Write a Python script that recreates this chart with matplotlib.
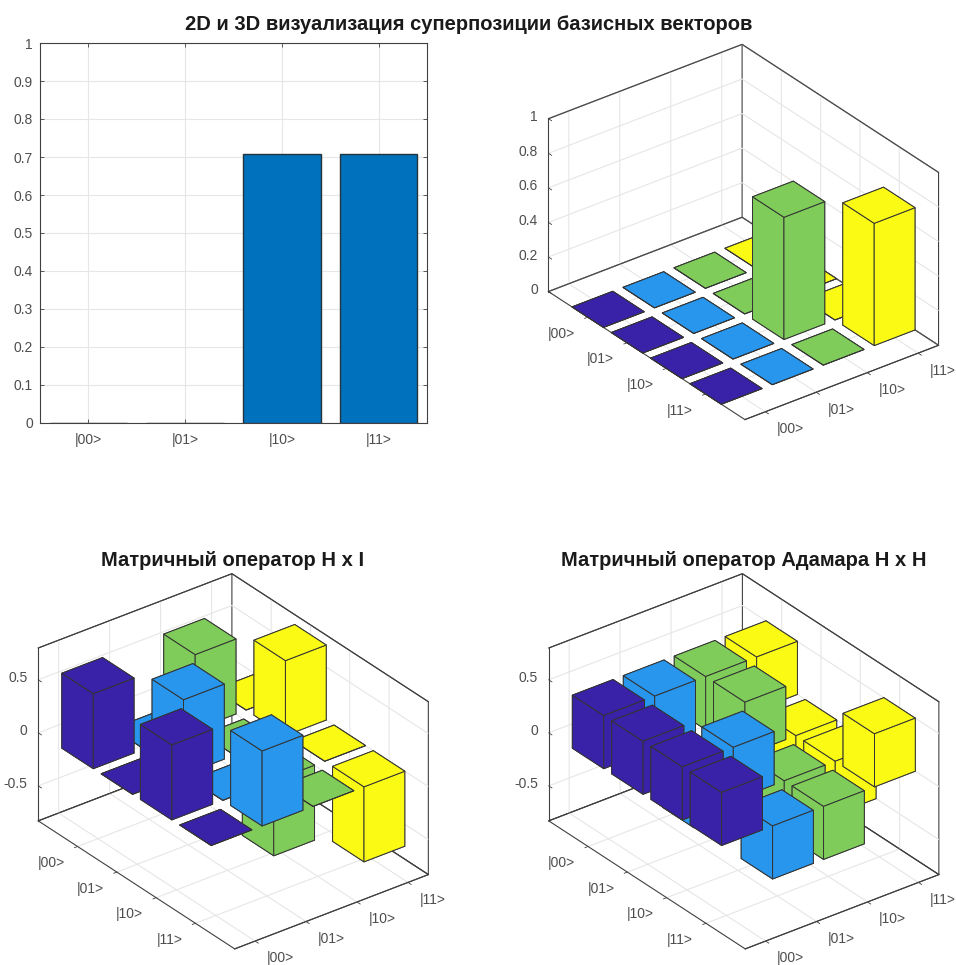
import matplotlib
matplotlib.use('Agg')
import matplotlib.pyplot as plt
from mpl_toolkits.mplot3d import Axes3D  # noqa

plt.rcParams['font.family'] = ['Liberation Sans', 'DejaVu Sans']

# ─── data ─────────────────────────────────────────
LABELS = ['|00>', '|01>', '|10>', '|11>']
POSITIONS = [1, 2, 3, 4]
STATE = [0, 0, 0.7071, 0.7071]
YTICKS_2D = [0, 0.1, 0.2, 0.3, 0.4, 0.5, 0.6, 0.7, 0.8, 0.9, 1]
YLABELS_2D = ['0', '0.1', '0.2', '0.3', '0.4', '0.5', '0.6', '0.7', '0.8', '0.9', '1']

DENSITY = [
    [0, 0, 0, 0],
    [0, 0, 0, 0],
    [0, 0, 0.7071, 0],
    [0, 0, 0, 0.7071],
]
H_I = [
    [0.7071, 0, 0.7071, 0],
    [0, 0.7071, 0, 0.7071],
    [0.7071, 0, -0.7071, 0],
    [0, 0.7071, 0, -0.7071],
]
H_H = [
    [0.5, 0.5, 0.5, 0.5],
    [0.5, -0.5, 0.5, -0.5],
    [0.5, 0.5, -0.5, -0.5],
    [0.5, -0.5, -0.5, 0.5],
]
ZTICKS_TOP = [0, 0.2, 0.4, 0.6, 0.8, 1]
ZLABELS_TOP = ['0', '0.2', '0.4', '0.6', '0.8', '1']
ZTICKS_OP = [-0.5, 0, 0.5]
ZLABELS_OP = ['-0.5', '0', '0.5']

# ─── style ────────────────────────────────────────
COLS = ['#3A22A8', '#2796EC', '#7FCC5A', '#FAFA14']
DARK = '#404040'
TEXT = '#4d4d4d'
GRID = '#e6e6e6'
W, H = 956, 965
S = 438.0  # side of the square 3d axes, px
XLIM = (0.6, 4.4)
YLIM = (5, 0)

fig = plt.figure(figsize=(W / 100, H / 100), dpi=100)
fig.patch.set_facecolor('white')

# 2d bar
ax = fig.add_axes([40 / W, 1 - 423 / H, 387 / W, 380 / H])
ax.bar(POSITIONS, STATE, width=0.8, color='#0072BD', edgecolor='#26323c', linewidth=1.0, zorder=3)
ax.set_xlim(0.5, 4.5)
ax.set_ylim(0, 1)
ax.set_xticks(POSITIONS)
ax.set_xticklabels(LABELS)
ax.set_yticks(YTICKS_2D)
ax.set_yticklabels(YLABELS_2D)
ax.grid(color=GRID, linewidth=0.8, zorder=0)
ax.tick_params(direction='in', length=3, width=0.6, color=DARK, labelcolor=TEXT,
               labelsize=10, top=True, right=True, pad=5)
ax.tick_params(axis='x', pad=7.5)
for sp in ax.spines.values():
    sp.set_color(DARK)
    sp.set_linewidth(0.8)


def bar3(cx, cy, matrix, zlim, zticks, zlabels):
    # cx, cy — centre of the box on the picture
    left = cx - 0.5135 * S
    bottom = (H - cy) - 0.5135 * S
    a3 = fig.add_axes([left / W, bottom / H, S / W, S / H], projection='3d',
                      proj_type='ortho', computed_zorder=False)
    a3.patch.set_alpha(0)
    a3.view_init(elev=30, azim=-127.5)
    a3.set_box_aspect((244.3, 323.0, 199.8))

    # back edges of the box: grid lines at the limits would cover the pane edges
    for z in zlim:
        a3.plot([XLIM[0], XLIM[1], XLIM[1]], [YLIM[1], YLIM[1], YLIM[0]], [z, z, z],
                color=DARK, linewidth=0.8, zorder=1)

    # far cells first, so the nearer bars cover them
    order = 0
    for c in [3, 2, 1, 0]:
        for r in [0, 1, 2, 3]:
            v = matrix[r][c]
            z0 = min(v, 0)
            poly = a3.bar3d(POSITIONS[c] - 0.4, POSITIONS[r] - 0.4, z0, 0.8, 0.8, abs(v),
                            color=COLS[c], edgecolor='#333333', linewidth=0.7, shade=False)
            poly.set_zorder(5 + order)
            order += 1

    a3.set_xlim(XLIM[0], XLIM[1], view_margin=0)
    a3.set_ylim(YLIM[0], YLIM[1], view_margin=0)
    a3.set_zlim(zlim[0], zlim[1], view_margin=0)
    a3.set_xticks(POSITIONS)
    a3.set_xticklabels(LABELS, ha='left', va='center')
    a3.set_yticks(POSITIONS)
    a3.set_yticklabels(LABELS, ha='right', va='center')
    a3.set_zticks(zticks)
    a3.set_zticklabels(zlabels, ha='right', va='center')
    a3.zaxis.set_ticks_position('lower')

    for axis in (a3.xaxis, a3.yaxis, a3.zaxis):
        axis.set_pane_color((1, 1, 1, 1))
        axis.pane.set_edgecolor(DARK)
        axis.pane.set_linewidth(0.8)
        axis.line.set_color(DARK)
        axis.line.set_linewidth(0.8)
        axis._axinfo['grid'].update(color=GRID, linewidth=0.8)
        axis._axinfo['tick'].update(inward_factor=0.2, outward_factor=0.0, linewidth={True: 0.6, False: 0.6})
    a3.tick_params(axis='both', labelsize=10, labelcolor=TEXT, color=DARK)
    a3.tick_params(axis='x', pad=1.5)
    a3.tick_params(axis='y', pad=3)
    a3.tick_params(axis='z', pad=-3.5)
    return a3


bar3(743.5, 232, DENSITY, (0, 1), ZTICKS_TOP, ZLABELS_TOP)
bar3(233.3, 761.3, H_I, (-0.83, 0.80), ZTICKS_OP, ZLABELS_OP)
bar3(743.8, 761.3, H_H, (-0.83, 0.80), ZTICKS_OP, ZLABELS_OP)

fig.suptitle('2D и 3D визуализация суперпозиции базисных векторов', x=469 / W, y=1 - 24 / H,
             fontsize=14.5, fontweight='bold', color='#1a1a1a', va='center')
fig.text(233 / W, 1 - 560 / H, 'Матричный оператор H x I', ha='center', va='center',
         fontsize=14.5, fontweight='bold', color='#1a1a1a')
fig.text(744 / W, 1 - 560 / H, 'Матричный оператор Адамара H x H', ha='center', va='center',
         fontsize=14.5, fontweight='bold', color='#1a1a1a')

fig.savefig('out.png', dpi=100, facecolor='white')
